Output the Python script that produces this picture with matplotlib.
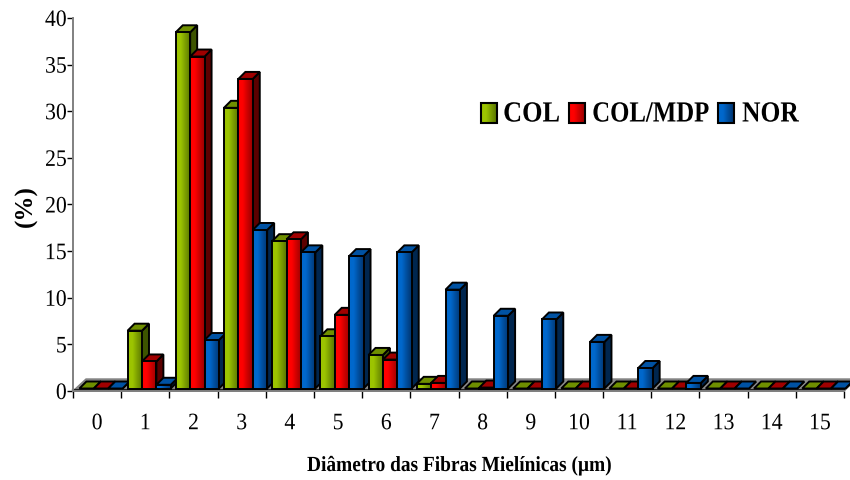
import numpy as np
import matplotlib
matplotlib.use("Agg")
import matplotlib.pyplot as plt
from matplotlib.colors import LinearSegmentedColormap
from matplotlib.patches import Polygon, Rectangle
from matplotlib.patheffects import AbstractPathEffect
from matplotlib.transforms import Affine2D

plt.rcParams['font.family'] = ['Liberation Serif', 'DejaVu Serif']

categories = ['0','1','2','3','4','5','6','7','8','9','10','11','12','13','14','15']
col = [0, 6.2, 38.2, 30.1, 15.8, 5.6, 3.6, 0.5, 0, 0, 0, 0, 0, 0, 0, 0]
col_mdp = [0, 2.9, 35.6, 33.2, 16.0, 7.9, 3.1, 0.6, 0.1, 0, 0, 0, 0, 0, 0, 0]
nor = [0, 0.4, 5.2, 17.0, 14.6, 14.2, 14.6, 10.6, 7.8, 7.4, 5.0, 2.2, 0.6, 0, 0, 0]
names = ['COL', 'COL/MDP', 'NOR']
series = [col, col_mdp, nor]

# light, dark, side, top colours per series
colors = [('#9cc400', '#587400', '#3d5400', '#6f8f00'),
          ('#ff0000', '#980000', '#5c0000', '#a00000'),
          ('#0068cc', '#00346f', '#00264f', '#0052a3')]

W, H = 850, 480
left, right, top, bottom = 73, 844, 18, 391
px_x = 16 / (right - left)
px_y = 40 / (bottom - top)


class Squeeze(AbstractPathEffect):
    # the labels in the original are set tight, squeeze the text sideways
    def __init__(self, sx, anchor='left'):
        super().__init__()
        self.sx = sx
        self.anchor = anchor

    def draw_path(self, renderer, gc, tpath, affine, rgbFace=None):
        ext = tpath.transformed(affine).get_extents()
        px = {'left': ext.x0, 'center': (ext.x0 + ext.x1) / 2, 'right': ext.x1}[self.anchor]
        t = affine + Affine2D().translate(-px, 0).scale(self.sx, 1).translate(px, 0)
        renderer.draw_path(gc, tpath, t, rgbFace)


fig = plt.figure(figsize=(W / 100, H / 100), dpi=100)
ax = fig.add_axes([left / W, 1 - bottom / H, (right - left) / W, (bottom - top) / H])


def gradient(ax, x0, x1, y0, y1, light, dark, z):
    cmap = LinearSegmentedColormap.from_list('g', [(0, light), (0.3, light), (1, dark)], N=64)
    g = np.linspace(0, 1, 32).reshape(1, -1)
    ax.imshow(g, extent=(x0, x1, y0, y1), aspect='auto', cmap=cmap, vmin=0, vmax=1,
              zorder=z, clip_on=False, interpolation='bilinear')


# floor
fdx, fdy = 13 * px_x, 12 * px_y
ax.add_patch(Polygon([(0, 0), (16, 0), (16 + fdx, fdy), (fdx, fdy)], closed=True,
                     facecolor='#8c8c8c', edgecolor='#808080', lw=1, clip_on=False, zorder=1))
ax.plot([0, 16], [0.15, 0.15], color='#202020', lw=1.6, zorder=1.5, clip_on=False)

bw = 14.4 * px_x
off = 6.4 * px_x
ddx, ddy = 7 * px_x, 7 * px_y
base = 2.5 * px_y
z = 2
for k in range(len(categories)):
    for s, vals in enumerate(series):
        v = vals[k]
        x0 = k + off + s * bw
        x1 = x0 + bw
        y0 = base
        y1 = base + v
        light, dark, side, topc = colors[s]
        # side and top faces
        ax.add_patch(Polygon([(x1, y0), (x1 + ddx, y0 + ddy), (x1 + ddx, y1 + ddy), (x1, y1)],
                             closed=True, facecolor=side, edgecolor='black', lw=1.4,
                             clip_on=False, zorder=z))
        ax.add_patch(Polygon([(x0, y1), (x0 + ddx, y1 + ddy), (x1 + ddx, y1 + ddy), (x1, y1)],
                             closed=True, facecolor=topc, edgecolor='black', lw=1.4,
                             clip_on=False, zorder=z))
        if v > 0:
            gradient(ax, x0, x1, y0, y1, light, dark, z + 0.1)
            ax.add_patch(Rectangle((x0, y0), bw, v, facecolor='none', edgecolor='black',
                                   lw=1.4, clip_on=False, zorder=z + 0.2))
        z += 1

ax.set_xlim(0, 16)
ax.set_ylim(0, 40)
ax.set_xticks(range(17))
ax.set_xticklabels([])
ax.set_xticks(np.arange(16) + 0.5, categories, minor=True)
ax.set_yticks(range(0, 41, 5))
ax.tick_params(axis='x', which='major', length=5, width=1, color='black')
ax.tick_params(axis='x', which='minor', length=0, labelsize=17, pad=16)
ax.tick_params(axis='y', length=4, width=1, color='black', labelsize=17, pad=0.5)
for lab in ax.get_xticklabels(minor=True):
    lab.set_path_effects([Squeeze(0.92, 'center')])
for lab in ax.get_yticklabels():
    lab.set_path_effects([Squeeze(0.92, 'right')])
for sp in ['top', 'right']:
    ax.spines[sp].set_visible(False)
for sp in ['left', 'bottom']:
    ax.spines[sp].set_color('#808080')
    ax.spines[sp].set_linewidth(1.4)
ax.patch.set_alpha(0)

# overlay in pixel coordinates for legend and titles
ov = fig.add_axes([0, 0, 1, 1], zorder=10)
ov.axis('off')
ov.patch.set_alpha(0)
sq_x = [481, 569, 718]
txt_x = [503, 592, 742]
squeeze = [0.9, 0.85, 0.875]
for i, name in enumerate(names):
    gradient(ov, sq_x[i], sq_x[i] + 16, 123, 103, colors[i][0], colors[i][1], 5)
    ov.add_patch(Rectangle((sq_x[i], 103), 16, 20, facecolor='none', edgecolor='black', lw=1.5, zorder=6))
    t = ov.text(txt_x[i], 114, name, fontsize=21, fontweight='bold', va='center', ha='left')
    t.set_path_effects([Squeeze(squeeze[i])])
ov.set_xlim(0, W)
ov.set_ylim(H, 0)
t = ov.text(307, 466, 'Diâmetro das Fibras Mielínicas (µm)', fontsize=15.5, fontweight='bold',
            ha='left', va='center')
t.set_path_effects([Squeeze(0.9)])
ov.text(26, 206, '(%)', fontsize=18, fontweight='bold', rotation=90, ha='center', va='center')

fig.savefig('out.png', dpi=100)
